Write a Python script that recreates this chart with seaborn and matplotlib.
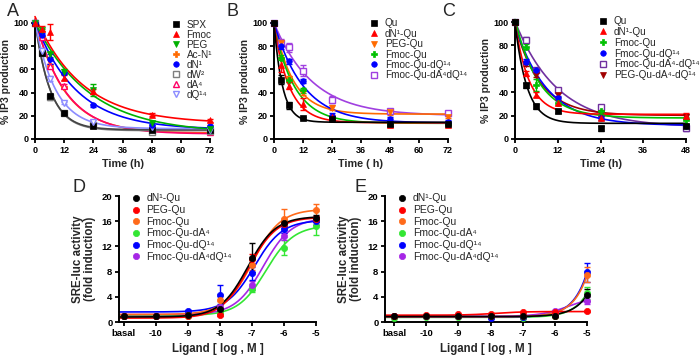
import numpy as np
import pandas as pd
import matplotlib
matplotlib.use('Agg')
import matplotlib.pyplot as plt
from matplotlib.lines import Line2D
import seaborn as sns

sns.set_theme(style='ticks')
plt.rcParams['font.family'] = ['Liberation Sans', 'DejaVu Sans']
plt.rcParams['mathtext.default'] = 'regular'

# ---------------- Panel A ----------------
time_A = [0, 3, 6, 12, 24, 48, 72]
A_labels = ['SPX', 'Fmoc', 'PEG', 'Ac-N¹', 'dN¹', 'dW²', 'dA⁴', 'dQ¹⁴']
A_SPX = [100, 74, 37, 22, 11, 8, 8]
A_Fmoc = [100, 95, 92, 53, 41, 21, 16]
A_PEG = [100, 94, 73, 58, 42, 14, 9]
A_AcN1 = [100, 88, 63, 45, 13, 8, 7]
A_dN1 = [100, 90, 69, 57, 29, 12, 11]
A_dW2 = [100, 74, 36, 22, 12, 6, 7]
A_dA4 = [100, 88, 63, 46, 13, 8, 6]
A_dQ14 = [100, 76, 52, 31, 15, 10, 8]
A_err_Fmoc = [0, 2, 7, 2, 2, 1.5, 1.5]
A_err_PEG = [0, 1, 2, 2, 5, 1, 1]
A_err_dN1 = [0, 1, 4, 1, 1, 1, 1]
A_err_other = [0, 1, 2, 1, 1, 1, 1]

# ---------------- Panel B ----------------
time_B = [0, 3, 6, 12, 24, 48, 72]
B_labels = ['Qu', 'dN¹-Qu', 'PEG-Qu', 'Fmoc-Qu', 'Fmoc-Qu-dQ¹⁴', 'Fmoc-Qu-dA⁴dQ¹⁴']
B_Qu = [100, 51, 29, 18, 17, 13, 13]
B_dN1Qu = [100, 64, 46, 30, 19, 12, 12]
B_PEGQu = [100, 83, 52, 40, 27, 23, 19]
B_FmocQu = [100, 70, 51, 42, 18, 13, 13]
B_FmocQudQ14 = [100, 80, 67, 50, 20, 17, 15]
B_FmocQudA4dQ14 = [100, 83, 79, 59, 34, 24, 22]
B_err_Qu = [0, 4, 3, 1, 1, 2, 1]
B_err_dN1Qu = [0, 6, 3, 5, 2, 2, 1]
B_err_purple = [0, 3, 4, 5, 3, 2, 1]
B_err_other = [0, 2, 2, 2, 2, 2, 1]

# ---------------- Panel C ----------------
time_C = [0, 3, 6, 12, 24, 48]
C_labels = ['Qu', 'dN¹-Qu', 'Fmoc-Qu', 'Fmoc-Qu-dQ¹⁴', 'Fmoc-Qu-dA⁴-dQ¹⁴', 'PEG-Qu-dA⁴-dQ¹⁴']
C_Qu = [100, 46, 28, 24, 9, 11]
C_dN1Qu = [100, 56, 38, 31, 18, 20]
C_FmocQu = [100, 79, 46, 31, 24, 16]
C_FmocQudQ14 = [100, 66, 59, 35, 18, 11]
C_FmocQudA4dQ14 = [100, 85, 59, 42, 27, 9]
C_PEGQudA4dQ14 = [100, 64, 55, 38, 22, 19]
C_err_green = [0, 2, 5, 2, 3, 3]
C_err_other = [0, 2, 2, 2, 2, 2]

# ---------------- Panel D / E ----------------
dose = [-11, -10, -9, -8, -7, -6, -5]
dose_ticklabels = ['basal', '-10', '-9', '-8', '-7', '-6', '-5']
DE_labels = ['dN¹-Qu', 'PEG-Qu', 'Fmoc-Qu', 'Fmoc-Qu-dA⁴', 'Fmoc-Qu-dQ¹⁴', 'Fmoc-Qu-dA⁴dQ¹⁴']
D_dN1Qu = [1.0, 1.0, 1.1, 2.0, 10.2, 15.7, 16.5]
D_PEGQu = [1.0, 1.0, 1.0, 1.1, 10.0, 15.5, 16.3]
D_FmocQu = [1.0, 1.0, 1.1, 3.5, 9.0, 16.4, 17.7]
D_FmocQudA4 = [1.0, 1.0, 1.0, 1.5, 5.2, 11.8, 15.2]
D_FmocQudQ14 = [1.0, 1.0, 1.7, 4.3, 7.7, 14.7, 16.0]
D_FmocQudA4dQ14 = [1.0, 1.0, 1.1, 2.4, 5.8, 13.6, 16.2]
D_err = {
    'dN1': [0, 0, 0, 0.3, 2.3, 0.5, 0.5],
    'PEG': [0, 0, 0, 0.2, 0.8, 0.5, 0.5],
    'Fmoc': [0, 0, 0, 0.8, 0.8, 1.6, 1.0],
    'dA4': [0, 0, 0, 0.2, 0.5, 1.2, 1.4],
    'dQ14': [0, 0, 0.2, 1.5, 1.0, 0.6, 0.6],
    'dA4dQ14': [0, 0, 0, 0.3, 0.7, 0.6, 0.6],
}
E_dN1Qu = [1.0, 0.9, 0.9, 0.9, 0.9, 0.9, 4.3]
E_PEGQu = [1.0, 1.1, 1.2, 1.3, 1.6, 1.6, 1.7]
E_FmocQu = [1.0, 0.9, 0.9, 0.9, 0.9, 1.0, 7.5]
E_FmocQudA4 = [0.7, 0.8, 0.8, 0.8, 0.7, 1.0, 4.6]
E_FmocQudQ14 = [1.0, 0.9, 0.9, 0.7, 0.8, 1.1, 7.9]
E_FmocQudA4dQ14 = [1.0, 0.9, 0.9, 0.9, 0.9, 1.8, 3.4]
E_err = {
    'dN1': [0, 0, 0, 0, 0, 0, 0.9],
    'PEG': [0, 0, 0, 0, 0, 0, 0.1],
    'Fmoc': [0, 0, 0, 0, 0, 0, 1.2],
    'dA4': [0, 0, 0, 0, 0, 0, 1.0],
    'dQ14': [0, 0, 0, 0, 0, 0, 1.5],
    'dA4dQ14': [0, 0, 0, 0, 0, 0, 0.5],
}

# ---------------- fitting helpers ----------------
def _linfit_grid(S, y):
    y = np.asarray(y, float)
    Sm = S.mean(axis=1, keepdims=True)
    ym = y.mean()
    varS = ((S - Sm) ** 2).sum(axis=1)
    cov = ((S - Sm) * (y - ym)).sum(axis=1)
    b = cov / np.where(varS > 1e-12, varS, np.nan)
    a = ym - b * Sm[:, 0]
    pred = a[:, None] + b[:, None] * S
    sse = ((pred - y) ** 2).sum(axis=1)
    sse = np.where(np.isnan(sse), np.inf, sse)
    return sse, a, b


def decay_curve(t, y, tmax):
    t = np.asarray(t, float)
    ks = np.linspace(0.005, 1.5, 4000)
    S = np.exp(-ks[:, None] * t[None, :])
    sse, a, b = _linfit_grid(S, y)
    i = np.argmin(sse)
    tt = np.linspace(0, tmax, 300)
    return tt, a[i] + b[i] * np.exp(-ks[i] * tt)


def sigmoid_curve(x, y, xmin, xmax):
    # log(agonist) vs response, standard slope
    x = np.asarray(x, float)
    lec = np.linspace(-10, -1, 1801)
    S = 1.0 / (1.0 + 10 ** (lec[:, None] - x[None, :]))
    sse, a, b = _linfit_grid(S, y)
    i = np.argmin(sse)
    xx = np.linspace(xmin, xmax, 300)
    return xx, a[i] + b[i] / (1.0 + 10 ** (lec[i] - xx))


fig = plt.figure(figsize=(7.0, 3.57), dpi=100)
W, Hpx = 700.0, 357.0


def add_ax(l, r, top, bot):
    return fig.add_axes([l / W, 1 - bot / Hpx, (r - l) / W, (bot - top) / Hpx])


TICK_FS = 6.5
LAB_FS = 7.5
LEG_FS = 7.2


def style_ax(ax, tfs=TICK_FS):
    sns.despine(ax=ax)
    for s in ['left', 'bottom']:
        ax.spines[s].set_linewidth(1.4)
        ax.spines[s].set_color('black')
    ax.tick_params(axis='both', direction='out', length=3.2, width=1.3, labelsize=tfs, pad=1.5, colors='black')
    for lab in ax.get_xticklabels() + ax.get_yticklabels():
        lab.set_fontweight('bold')
    ax.set_facecolor('white')


def draw_series(ax, x, y, err, color, marker, filled, curve, ms=4.0, ccolor=None):
    xx, yy = curve
    df = pd.DataFrame({'x': xx, 'y': yy})
    sns.lineplot(data=df, x='x', y='y', ax=ax, color=ccolor or color, linewidth=1.2, zorder=2, clip_on=False)
    ax.errorbar(x, y, yerr=err, fmt='none', ecolor=color, elinewidth=1.0, capsize=2.3, capthick=1.0, zorder=3, clip_on=False)
    mfc = color if filled else 'white'
    ax.plot(x, y, linestyle='none', marker=marker, markersize=ms, markerfacecolor=mfc,
            markeredgecolor=color, markeredgewidth=1.0 if not filled else 0.5, zorder=4, clip_on=False)


def add_legend(ax, labels, colors, markers, filled, anchor, ms=4.0, fs=LEG_FS, spacing=0.04):
    handles = []
    for c, m, f in zip(colors, markers, filled):
        handles.append(Line2D([], [], linestyle='none', marker=m, markersize=ms, markerfacecolor=c if f else 'white',
                              markeredgecolor=c, markeredgewidth=1.0 if not f else 0.5))
    ax.legend(handles, labels, loc='upper left', bbox_to_anchor=anchor, frameon=False, fontsize=fs,
              handlelength=0.9, handletextpad=0.6, labelspacing=spacing, borderaxespad=0, borderpad=0)


# ---------------- Panel A ----------------
axA = add_ax(35, 210, 23, 139)
A_data = [A_SPX, A_Fmoc, A_PEG, A_AcN1, A_dN1, A_dW2, A_dA4, A_dQ14]
A_errs = [A_err_other, A_err_Fmoc, A_err_PEG, A_err_other, A_err_dN1, A_err_other, A_err_other, A_err_other]
A_colors = ['#000000', '#FF0000', '#00B000', '#FF6A00', '#0000FF', '#7F7F7F', '#FF0066', '#8C8CFF']
A_curve_colors = ['#444444', '#FF0000', '#00B000', '#FF6A00', '#0000FF', '#7F7F7F', '#FF0066', '#8C8CFF']
A_markers = ['s', '^', 'v', 'P', 'o', 's', '^', 'v']
A_filled = [True, True, True, True, True, False, False, False]
for i in [3, 6, 5, 0, 7, 4, 2, 1]:
    curve = decay_curve(time_A, A_data[i], 72)
    draw_series(axA, time_A, A_data[i], A_errs[i], A_colors[i], A_markers[i], A_filled[i], curve,
                ccolor=A_curve_colors[i])
axA.set_xlim(0, 72)
axA.set_ylim(0, 100)
axA.set_xticks([0, 12, 24, 36, 48, 60, 72])
axA.set_yticks([0, 20, 40, 60, 80, 100])
axA.set_xlabel('Time (h)', fontsize=LAB_FS + 0.3, fontweight='bold', labelpad=3)
axA.set_ylabel('% IP3 production', fontsize=LAB_FS, fontweight='bold', labelpad=2)
style_ax(axA)
add_legend(axA, A_labels, A_colors, A_markers, A_filled, (0.78, 1.03), spacing=0.0)

# ---------------- Panel B ----------------
axB = add_ax(274, 448, 23, 139)
B_data = [B_Qu, B_dN1Qu, B_PEGQu, B_FmocQu, B_FmocQudQ14, B_FmocQudA4dQ14]
B_errs = [B_err_Qu, B_err_dN1Qu, B_err_other, B_err_other, B_err_other, B_err_purple]
B_colors = ['#000000', '#FF0000', '#FF6A00', '#00C000', '#0000FF', '#A040E0']
B_markers = ['s', '^', 'v', 'P', 'o', 's']
B_filled = [True, True, True, True, True, False]
for i in [5, 2, 3, 4, 1, 0]:
    curve = decay_curve(time_B, B_data[i], 72)
    draw_series(axB, time_B, B_data[i], B_errs[i], B_colors[i], B_markers[i], B_filled[i], curve)
axB.set_xlim(0, 72)
axB.set_ylim(0, 100)
axB.set_xticks([0, 12, 24, 36, 48, 60, 72])
axB.set_yticks([0, 20, 40, 60, 80, 100])
axB.set_xlabel('Time ( h)', fontsize=LAB_FS + 0.3, fontweight='bold', labelpad=3)
axB.set_ylabel('% IP3 production', fontsize=LAB_FS, fontweight='bold', labelpad=2)
style_ax(axB)
add_legend(axB, B_labels, B_colors, B_markers, B_filled, (0.55, 1.04))

# ---------------- Panel C ----------------
axC = add_ax(515, 686, 22, 139)
C_data = [C_Qu, C_dN1Qu, C_FmocQu, C_FmocQudQ14, C_FmocQudA4dQ14, C_PEGQudA4dQ14]
C_errs = [C_err_other, C_err_other, C_err_green, C_err_other, C_err_other, C_err_other]
C_colors = ['#000000', '#FF0000', '#00C000', '#0000FF', '#7030A0', '#A00000']
C_markers = ['s', '^', 'P', 'o', 's', 'v']
C_filled = [True, True, True, True, False, True]
for i in [4, 5, 3, 2, 1, 0]:
    curve = decay_curve(time_C, C_data[i], 48)
    draw_series(axC, time_C, C_data[i], C_errs[i], C_colors[i], C_markers[i], C_filled[i], curve)
axC.set_xlim(0, 48)
axC.set_ylim(0, 100)
axC.set_xticks([0, 12, 24, 36, 48])
axC.set_yticks([0, 20, 40, 60, 80, 100])
axC.set_xlabel('Time (h)', fontsize=LAB_FS + 0.3, fontweight='bold', labelpad=3)
axC.set_ylabel('% IP3 production', fontsize=LAB_FS, fontweight='bold', labelpad=2)
style_ax(axC)
add_legend(axC, C_labels, C_colors, C_markers, C_filled, (0.49, 1.05), spacing=0.08)

# ---------------- Panel D / E ----------------
DE_colors = ['#000000', '#FF0000', '#FF6A1A', '#33E633', '#0000FF', '#A626E6']
DE_keys = ['dN1', 'PEG', 'Fmoc', 'dA4', 'dQ14', 'dA4dQ14']
DE_markers = ['o'] * 6
DE_filled = [True] * 6


def dose_panel(ax, data, errs, xmin):
    for i in [3, 5, 4, 2, 1, 0]:
        curve = sigmoid_curve(dose, data[i], xmin, -5)
        draw_series(ax, dose, data[i], errs[DE_keys[i]], DE_colors[i], 'o', True, curve, ms=4.5)
    ax.set_xlim(xmin, -5)
    ax.set_ylim(0, 20)
    ax.set_xticks(dose)
    ax.set_xticklabels(dose_ticklabels)
    ax.set_yticks([0, 4, 8, 12, 16, 20])
    ax.set_xlabel('Ligand [ log , M ]', fontsize=8.3, fontweight='bold', labelpad=4)
    ax.set_ylabel('SRE-luc activity\n(fold induction)', fontsize=8.3, fontweight='bold', labelpad=4, linespacing=1.0)
    style_ax(ax, tfs=6.8)
    add_legend(ax, DE_labels, DE_colors, DE_markers, DE_filled, (0.06, 1.02), ms=4.5, fs=7.5, spacing=0.16)


axD = add_ax(119, 316, 196, 322)
dose_panel(axD, [D_dN1Qu, D_PEGQu, D_FmocQu, D_FmocQudA4, D_FmocQudQ14, D_FmocQudA4dQ14], D_err, -11.15)

axE = add_ax(385, 587, 196, 322)
dose_panel(axE, [E_dN1Qu, E_PEGQu, E_FmocQu, E_FmocQudA4, E_FmocQudQ14, E_FmocQudA4dQ14], E_err, -11.28)

# panel letters
for txt, x, y in [('A', 13, 11), ('B', 233, 12), ('C', 449, 12), ('D', 79, 188), ('E', 361, 188)]:
    fig.text(x / W, 1 - y / Hpx, txt, fontsize=13, ha='center', va='center')

fig.savefig('out.png', dpi=100, facecolor='white')
